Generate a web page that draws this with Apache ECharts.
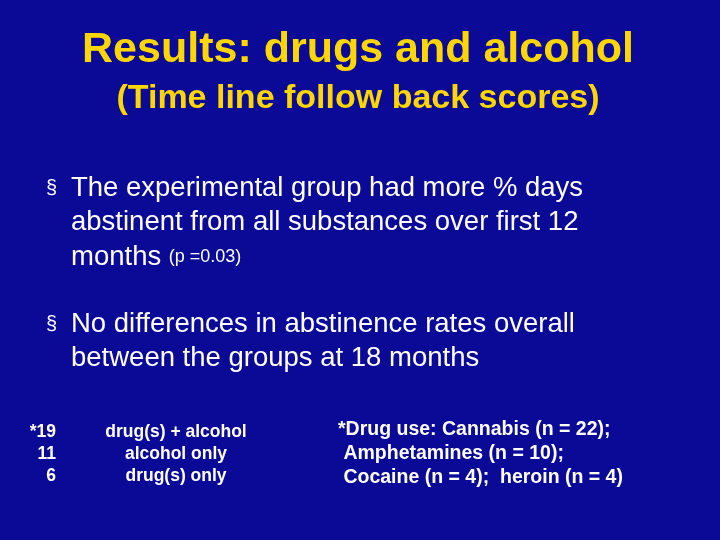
<!DOCTYPE html>
<html>
<head>
<meta charset="UTF-8">
<script src="https://cdn.jsdelivr.net/npm/echarts@6/dist/echarts.min.js"></script>
<style>
html, body { margin: 0; padding: 0; background: #0a0a96; }
#chart { width: 720px; height: 540px; }
</style>
</head>
<body>
<div id="chart"></div>
<script>
var counts = ['*19', '11', '6'];
var groups = ['drug(s) + alcohol', 'alcohol only', 'drug(s) only'];
var drugNotes = ['*Drug use: Cannabis (n = 22);', ' Amphetamines (n = 10);', ' Cocaine (n = 4);  heroin (n = 4)'];

var font = '"Liberation Sans", Arial, sans-serif';
var elements = [];

function txt(x, y, s, size, opts) {
    opts = opts || {};
    elements.push({
        type: 'text', x: x, y: y,
        style: {
            text: s, fill: opts.fill || '#ffffff',
            font: (opts.bold ? 'bold ' : '') + size + 'px ' + font,
            textAlign: opts.align || 'left', textVerticalAlign: 'middle'
        }
    });
}

txt(358, 50, 'Results: drugs and alcohol', 43, { bold: true, fill: '#ffd700', align: 'center' });
txt(358, 99, '(Time line follow back scores)', 34, { bold: true, fill: '#ffd700', align: 'center' });

txt(46, 188, '\u00a7', 20);
txt(71, 188, 'The experimental group had more % days', 27.5);
txt(71, 222, 'abstinent from all substances over first 12', 27.5);
elements.push({
    type: 'text', x: 71, y: 257,
    style: {
        text: '{a|months }{b|(p =0.03)}', fill: '#ffffff', textVerticalAlign: 'middle',
        rich: { a: { fontSize: 27.5, fontFamily: font, fill: '#fff' }, b: { fontSize: 18, fontFamily: font, fill: '#fff' } }
    }
});

txt(46, 324, '\u00a7', 20);
txt(71, 324, 'No differences in abstinence rates overall', 27.5);
txt(71, 358, 'between the groups at 18 months', 27.5);

counts.forEach(function (c, i) {
    txt(56, 432 + i * 22, c, 17.5, { bold: true, align: 'right' });
});
groups.forEach(function (g, i) {
    txt(176, 432 + i * 22, g, 17.5, { bold: true, align: 'center' });
});
drugNotes.forEach(function (d, i) {
    txt(338, 430 + i * 24, d, 19.5, { bold: true });
});

var chart = echarts.init(document.getElementById('chart'));
chart.setOption({ backgroundColor: '#0a0a96', graphic: { elements: elements } });
</script>
</body>
</html>
